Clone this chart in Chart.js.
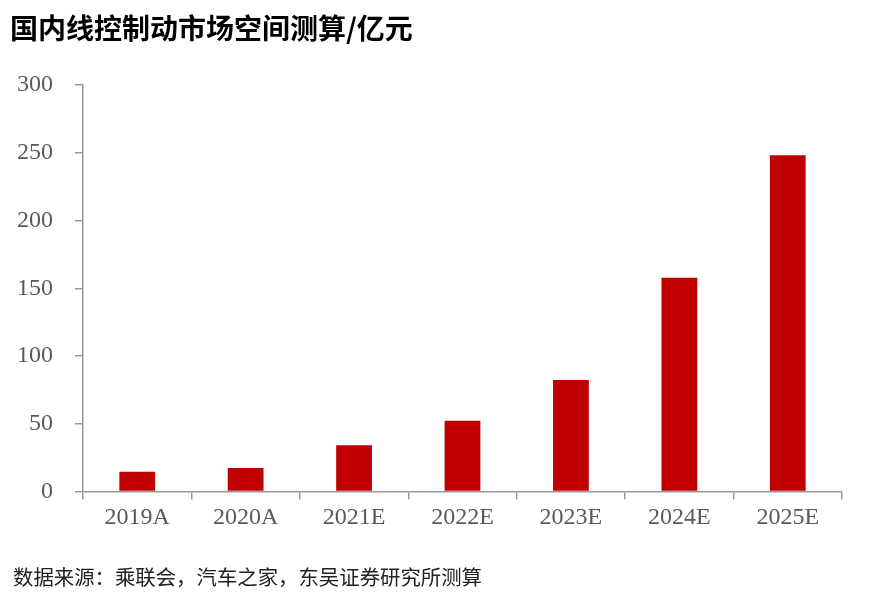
<!DOCTYPE html>
<html>
<head>
<meta charset="utf-8">
<script src="https://cdn.jsdelivr.net/npm/chart.js@4/dist/chart.umd.min.js"></script>
<style>
  html, body { margin: 0; padding: 0; background: #fff; }
  #wrap { position: relative; width: 869px; height: 599px; overflow: hidden; }
  #title { position: absolute; left: 10px; top: 7px; font: bold 28px "Noto Sans CJK SC", sans-serif; color: #000; white-space: nowrap; }
  #source { position: absolute; left: 13px; top: 561px; font: 20.4px "Noto Sans CJK SC", sans-serif; color: #222; white-space: nowrap; }
  #chartBox { position: absolute; left: 0; top: 0; width: 869px; height: 599px; }
</style>
</head>
<body>
<div id="wrap">
  <div id="chartBox"><canvas id="chartMarket"></canvas></div>
  <div id="title">国内线控制动市场空间测算/亿元</div>
  <div id="source">数据来源：乘联会，汽车之家，东吴证券研究所测算</div>
</div>
<script>
"use strict";

var years = ["2019A", "2020A", "2021E", "2022E", "2023E", "2024E", "2025E"];
var marketValues = [14.6, 17.3, 34.1, 52.3, 82.3, 157.8, 248.1];
var yTicks = [0, 50, 100, 150, 200, 250, 300];

var BAR_RED = "#C00000";
var AXIS_GREY = "#9a9a9a";
var LABEL_GREY = "#595959";

new Chart(document.getElementById("chartMarket"), {
  type: "bar",
  data: {
    labels: years,
    datasets: [{
      label: "市场空间",
      data: marketValues,
      backgroundColor: BAR_RED,
      borderWidth: 0,
      barPercentage: 0.33,
      categoryPercentage: 1
    }]
  },
  options: {
    responsive: true, maintainAspectRatio: false, animation: false,
    layout: { padding: { left: 0, right: 27, top: 85, bottom: 67.5 } },
    plugins: { legend: { display: false }, tooltip: { enabled: false } },
    scales: {
      x: {
        grid: { display: true, drawOnChartArea: false, drawTicks: true, tickLength: 8, offset: true, color: AXIS_GREY, lineWidth: 1.5 },
        border: { color: AXIS_GREY, width: 1.5 },
        ticks: { color: LABEL_GREY, padding: 4, font: { family: "Liberation Serif", size: 24 } },
        afterFit: function (s) { s.height = 40; }
      },
      y: {
        min: 0, max: 300,
        afterBuildTicks: function (s) { s.ticks = yTicks.map(function (v) { return { value: v }; }); },
        grid: { display: true, drawOnChartArea: false, drawTicks: true, tickLength: 8, color: AXIS_GREY, lineWidth: 1.5 },
        border: { color: AXIS_GREY, width: 1.5 },
        ticks: { color: LABEL_GREY, padding: 22, font: { family: "Liberation Serif", size: 24 } },
        afterFit: function (s) { s.width = 83; }
      }
    }
  }
});
</script>
</body>
</html>
